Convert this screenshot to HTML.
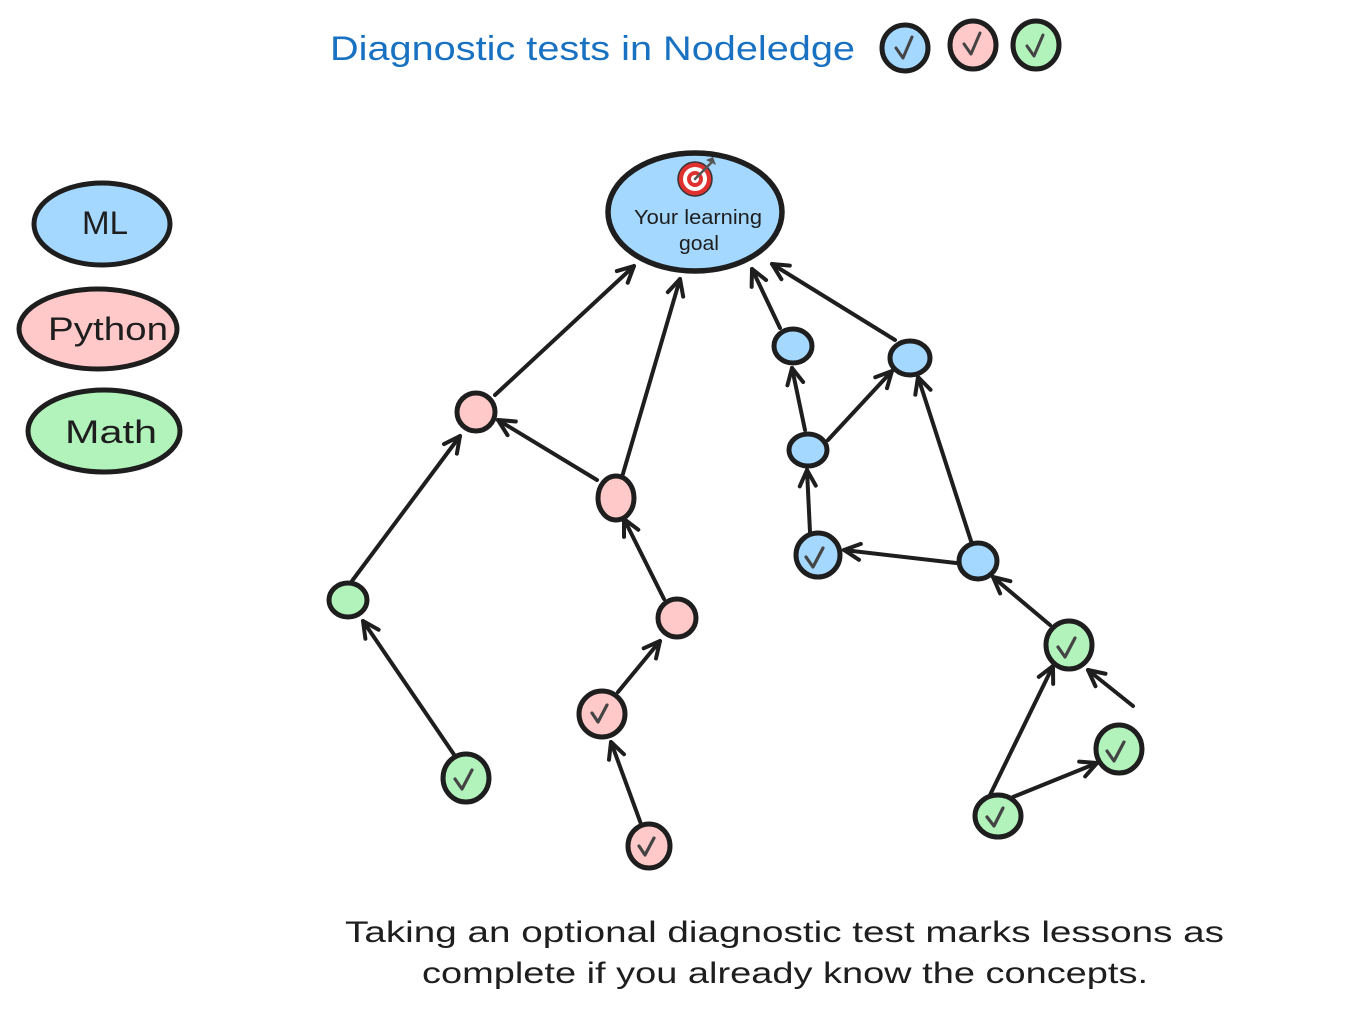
<!DOCTYPE html>
<html>
<head>
<meta charset="utf-8">
<style>
html,body{margin:0;padding:0;background:#ffffff;}
svg{display:block;}
text{font-family:"Liberation Sans","DejaVu Sans",sans-serif;}
</style>
</head>
<body>
<svg width="1347" height="1034" viewBox="0 0 1347 1034" xmlns="http://www.w3.org/2000/svg">
<defs>
<marker id="ah" viewBox="-20 -12 24 24" refX="0" refY="0" markerWidth="24" markerHeight="24" markerUnits="userSpaceOnUse" orient="auto">
<path d="M -16 -8 L 0 0 L -16 8" fill="none" stroke="#1e1e1e" stroke-width="4" stroke-linecap="round" stroke-linejoin="round"/>
</marker>
</defs>

<!-- Title -->
<text x="330" y="60" font-size="34" fill="#1971c2" textLength="525" lengthAdjust="spacingAndGlyphs">Diagnostic tests in Nodeledge</text>
<g stroke="#1e1e1e" stroke-width="5">
<ellipse cx="905" cy="48" rx="23" ry="23" fill="#a5d8ff"/>
<ellipse cx="973" cy="45" rx="23" ry="24" fill="#ffc9c9"/>
<ellipse cx="1036" cy="45" rx="23" ry="24" fill="#b2f2bb"/>
</g>
<g fill="none" stroke="#444" stroke-width="3" stroke-linecap="round" stroke-linejoin="round">
<path d="M896 48 L903 58 L912 37"/>
<path d="M964 44 L971 54 L980 33"/>
<path d="M1027 46 L1034 56 L1043 35"/>
</g>

<!-- Legend -->
<g stroke="#1e1e1e" stroke-width="5">
<ellipse cx="102" cy="224" rx="68" ry="41" fill="#a5d8ff"/>
<ellipse cx="98" cy="329" rx="79" ry="40" fill="#ffc9c9"/>
<ellipse cx="104" cy="431" rx="76" ry="41" fill="#b2f2bb"/>
</g>
<g fill="#1e1e1e" font-size="32" text-anchor="middle">
<text x="105" y="234" textLength="46" lengthAdjust="spacingAndGlyphs">ML</text>
<text x="108" y="340" textLength="120" lengthAdjust="spacingAndGlyphs">Python</text>
<text x="111" y="443" textLength="92" lengthAdjust="spacingAndGlyphs">Math</text>
</g>

<!-- Edges -->
<g stroke="#1e1e1e" stroke-width="4" stroke-linecap="round" fill="none" marker-end="url(#ah)">
<line x1="495" y1="395" x2="634" y2="266"/>
<line x1="622" y1="477" x2="680" y2="279"/>
<line x1="597" y1="480" x2="498" y2="420"/>
<line x1="352" y1="581" x2="460" y2="436"/>
<line x1="455" y1="756" x2="363" y2="621"/>
<line x1="664" y1="599" x2="624" y2="519"/>
<line x1="618" y1="692" x2="660" y2="641"/>
<line x1="641" y1="824" x2="611" y2="742"/>
<line x1="780" y1="328" x2="752" y2="269"/>
<line x1="895" y1="340" x2="772" y2="264"/>
<line x1="805" y1="430" x2="792" y2="368"/>
<line x1="828" y1="440" x2="892" y2="371"/>
<line x1="810" y1="532" x2="807" y2="470"/>
<line x1="956" y1="563" x2="844" y2="550"/>
<line x1="971" y1="541" x2="918" y2="377"/>
<line x1="1050" y1="625" x2="993" y2="577"/>
<line x1="990" y1="795" x2="1053" y2="666"/>
<line x1="1013" y1="797" x2="1097" y2="763"/>
<line x1="1133" y1="706" x2="1088" y2="670"/>
</g>

<!-- Goal -->
<ellipse cx="695" cy="212" rx="87" ry="59" fill="#a5d8ff" stroke="#1e1e1e" stroke-width="5.5"/>
<g>
<circle cx="695" cy="179" r="17" fill="#e03131" stroke="#333" stroke-width="1.5"/>
<circle cx="695" cy="179" r="12" fill="#ffffff"/>
<circle cx="695" cy="179" r="8" fill="#e03131"/>
<circle cx="695" cy="179" r="4" fill="#ffffff"/>
<line x1="695" y1="179" x2="712" y2="162" stroke="#555" stroke-width="2.5" stroke-linecap="round"/>
<path d="M706 160 L713 157 L716 165 Z" fill="#555"/>
</g>
<g fill="#1e1e1e" font-size="20" text-anchor="middle">
<text x="698" y="224" textLength="128" lengthAdjust="spacingAndGlyphs">Your learning</text>
<text x="699" y="250" textLength="40" lengthAdjust="spacingAndGlyphs">goal</text>
</g>

<!-- Nodes -->
<g stroke="#1e1e1e" stroke-width="5">
<!-- pink -->
<ellipse cx="476" cy="412" rx="19" ry="19" fill="#ffc9c9"/>
<ellipse cx="616" cy="498" rx="18" ry="22" fill="#ffc9c9"/>
<ellipse cx="677" cy="618" rx="19" ry="19" fill="#ffc9c9"/>
<ellipse cx="602" cy="714" rx="23" ry="23" fill="#ffc9c9"/>
<ellipse cx="649" cy="846" rx="21" ry="22" fill="#ffc9c9"/>
<!-- green -->
<ellipse cx="348" cy="600" rx="19" ry="17" fill="#b2f2bb"/>
<ellipse cx="466" cy="778" rx="23" ry="24" fill="#b2f2bb"/>
<ellipse cx="1069" cy="645" rx="23" ry="24" fill="#b2f2bb"/>
<ellipse cx="1119" cy="749" rx="23" ry="24" fill="#b2f2bb"/>
<ellipse cx="998" cy="816" rx="23" ry="21" fill="#b2f2bb"/>
<!-- blue -->
<ellipse cx="793" cy="346" rx="19" ry="17" fill="#a5d8ff"/>
<ellipse cx="910" cy="358" rx="20" ry="17" fill="#a5d8ff"/>
<ellipse cx="808" cy="450" rx="19" ry="16" fill="#a5d8ff"/>
<ellipse cx="818" cy="555" rx="22" ry="22" fill="#a5d8ff"/>
<ellipse cx="978" cy="561" rx="19" ry="18" fill="#a5d8ff"/>
</g>

<!-- Check marks -->
<g fill="none" stroke="#444" stroke-width="3.2" stroke-linecap="round" stroke-linejoin="round">
<path d="M592 713 L598 722 L607 705"/>
<path d="M639 846 L645 855 L654 838"/>
<path d="M455 779 L462 789 L472 770"/>
<path d="M1058 647 L1065 657 L1075 638"/>
<path d="M1107 751 L1114 761 L1124 742"/>
<path d="M987 817 L994 826 L1003 808"/>
<path d="M806 557 L813 567 L823 548"/>
</g>

<!-- Bottom text -->
<g fill="#1e1e1e" font-size="30">
<text x="345" y="942" textLength="879" lengthAdjust="spacingAndGlyphs">Taking an optional diagnostic test marks lessons as</text>
<text x="422" y="983" textLength="726" lengthAdjust="spacingAndGlyphs">complete if you already know the concepts.</text>
</g>
</svg>
</body>
</html>
